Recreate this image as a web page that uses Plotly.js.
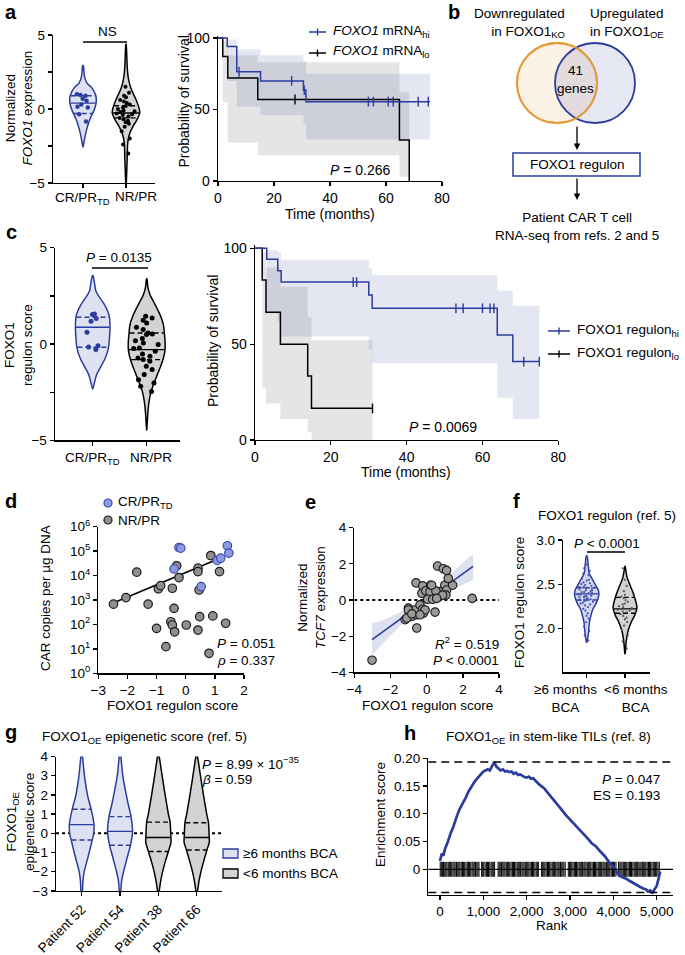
<!DOCTYPE html>
<html><head><meta charset="utf-8">
<script src="https://cdn.plot.ly/plotly-3.0.1.min.js"></script>
<style>html,body{margin:0;padding:0;background:#fff;} #chart{width:685px;height:955px;}</style>
</head><body><div id="chart"></div>
<script>
// ---------------- DATA ----------------
// panel a : violin
const aCategories = ['CR/PR<sub>TD</sub>', 'NR/PR'];
const aCRValues = [1.0, 0.95, 0.9, 0.7, 0.55, 0.3, 0.15, 0.1, -0.35, -0.85];
const aNRValues = [1.5, 1.1, 0.9, 0.8, 0.6, 0.5, 0.4, 0.3, 0.2, 0.1, 0.0, -0.1, -0.15, -0.2, -0.3, -0.35, -0.4, -0.5, -0.6, -0.7, -0.8, -0.9, -1.0, -1.2, -1.5, -2.0, -2.4, -3.0];
const aCRShapeY = [2.87, 2.2, 1.75, 1.41, 0.96, 0.63, 0.29, -0.16, -0.61, -1.05, -1.61, -2.06, -2.51];
const aCRShapeD = [0.04, 0.11, 0.3, 0.68, 0.94, 1.0, 0.96, 0.79, 0.56, 0.38, 0.21, 0.11, 0.02];
const aNRShapeY = [4.3, 3.5, 2.8, 2.2, 1.7, 1.3, 0.63, 0.18, -0.27, -0.72, -1.17, -1.6, -2.06, -2.5, -3.2, -4.0, -5.0];
const aNRShapeD = [0.02, 0.06, 0.09, 0.15, 0.26, 0.4, 0.73, 0.91, 1.0, 0.8, 0.51, 0.29, 0.16, 0.11, 0.09, 0.06, 0.02];
const aCRStats = [-0.3, 0.4, 0.9];   // q1, median, q3
const aNRStats = [-0.6, -0.27, 0.22];
// panel a : survival
const aHiTime = [0, 3.3, 6.7, 15.2, 30.5, 31.4, 75.7];
const aHiSurv = [100, 94, 76.4, 70, 63.6, 55.5, 55.5];
const aHiUpper = [100, 99, 92, 88, 84, 75, 75];
const aHiLower = [100, 70, 52, 46, 40, 29, 29];
const aHiCensor = [7.5, 26.3, 30.8, 53.7, 55.5, 60.8, 62.6, 71.5, 75.1];
const aLoTime = [0, 1.7, 3.5, 14.2, 64.8, 68.3];
const aLoSurv = [100, 87, 72, 57, 28.7, 0];
const aLoUpper = [100, 98, 88, 83, 62, 0];
const aLoLower = [100, 55, 27, 18, 3, 0];
const aLoCensor = [27.5];
// panel c : violin
const cCRValues = [1.56, 1.53, 1.32, 1.18, 0.61, -0.09, -0.16, -0.29];
const cNRValues = [1.44, 1.35, 1.23, 1.09, 0.87, 0.75, 0.57, 0.52, 0.49, 0.28, 0.17, 0.05, -0.03, -0.21, -0.24, -0.38, -0.52, -0.64, -0.73, -0.81, -0.9, -1.16, -1.33, -1.59, -1.85, -2.03, -2.2, -2.46];
const cCRShapeY = [3.52, 3.08, 2.74, 2.39, 2.05, 1.70, 1.39, 0.87, 0.31, -0.21, -0.73, -1.16, -1.59, -1.94, -2.29];
const cCRShapeD = [0.03, 0.12, 0.19, 0.42, 0.68, 0.87, 0.97, 1.0, 0.97, 0.91, 0.73, 0.48, 0.23, 0.12, 0.02];
const cNRShapeY = [3.35, 2.91, 2.56, 2.22, 1.87, 1.44, 1.0, 0.57, 0.14, -0.29, -0.73, -1.16, -1.59, -2.03, -2.46, -2.98, -3.5, -4.37];
const cNRShapeD = [0.02, 0.07, 0.18, 0.36, 0.55, 0.76, 0.91, 0.96, 1.0, 1.0, 0.91, 0.76, 0.58, 0.4, 0.24, 0.13, 0.07, 0.01];
const cCRStats = [-0.17, 0.87, 1.39];
const cNRStats = [-0.81, -0.29, 0.57];
// panel c : survival
const cHiTime = [0, 3.1, 6.0, 6.9, 30.0, 30.9, 63.9, 68.0, 75.0];
const cHiSurv = [100, 94.3, 88.3, 82.4, 75.7, 68.7, 54.8, 40.9, 40.9];
const cHiUpper = [100, 99, 98, 94, 90, 86, 78, 70, 70];
const cHiLower = [100, 66, 62, 54, 47, 40, 22, 11, 11];
const cHiCensor = [25.9, 26.8, 53, 54.9, 60, 62, 63, 70.9, 75];
const cLoTime = [0, 1.9, 2.9, 6.7, 13.9, 14.9, 31];
const cLoSurv = [100, 83.5, 66.6, 49.9, 33.4, 16.5, 16.5];
const cLoUpper = [100, 98, 90, 80, 64, 52, 52];
const cLoLower = [100, 27, 19, 11, 4, 0, 0];
const cLoCensor = [31];
// panel d
const dNRx = [-2.48, -2.05, -1.68, -1.29, -0.94, -0.86, -1.0, -0.68, -0.51, -0.46, -0.38, -0.46, -0.40, -0.31, -0.23, 0.02, 0.42, 0.42, 0.42, 0.48, 0.46, 0.86, 0.93, 1.16, 1.37, 0.80];
const dNRy = [676, 1259, 13800, 676, 2880, 3890, 69, 12.3, 129, 95, 50, 3020, 457, 25100, 8300, 95, 20000, 14500, 59, 209, 2570, 66000, 224, 14500, 112, 6.6];
const dCRx = [-0.23, -0.17, -0.4, 0.53, 1.08, 1.2, 1.43, 1.48];
const dCRy = [141000, 132000, 18600, 3550, 41700, 51300, 166000, 83000];
const dFitX = [-2.51, 1.03];
const dFitY = [740, 43600];
// panel e
const eX = [-3.02, -0.55, -1.19, -1.01, -0.95, -0.73, -0.82, -0.55, -0.64, -0.37, -0.22, -0.18, -0.09, 0.46, -0.59, -0.27, -0.22, -0.05, 0.18, 0.22, 0.05, 0.33, 0.64, 0.73, 0.51, 1.0, 1.1, 1.06, 0.88, 0.6, 0.91, 1.43, -1.1, -1.01, -0.82, -0.37, 0.55, 1.19, 1.1, 2.51, 0.27];
const eY = [-3.33, -1.55, -1.09, -0.45, -0.73, -0.64, -0.91, -0.82, -0.55, -0.27, -0.51, -0.73, -0.55, -0.67, 0.95, 0.37, 0.78, 0.51, 0.46, 0.82, 0.04, 0.04, 0.15, 0.46, 0.49, 0.82, 0.55, 0.27, 0.27, 1.88, 1.73, 0.82, -1.0, -0.55, -0.77, -0.82, 0.09, 1.19, 1.64, 0.09, 0.82];
const eFitX = [-3.02, 2.56];
const eFitY = [-2.19, 1.86];
const eBandX = [-3.02, -2.5, -2, -1.5, -1, -0.5, 0, 0.5, 1, 1.5, 2, 2.56];
const eBandLo = [-3.05, -2.47, -1.97, -1.48, -0.99, -0.53, -0.16, 0.11, 0.36, 0.59, 0.82, 1.12];
const eBandHi = [-1.3, -1.15, -0.93, -0.70, -0.45, -0.19, 0.16, 0.61, 1.10, 1.59, 2.08, 2.55];
// panel f
const fCategories = ['≥6 months<br>BCA', '&lt;6 months<br>BCA'];
const fLongValues = [2.80, 2.72, 2.68, 2.65, 2.62, 2.60, 2.58, 2.56, 2.55, 2.54, 2.52, 2.51, 2.50, 2.49, 2.48, 2.47, 2.47, 2.46, 2.45, 2.45, 2.44, 2.43, 2.43, 2.42, 2.41, 2.41, 2.40, 2.40, 2.39, 2.39, 2.38, 2.38, 2.37, 2.37, 2.36, 2.36, 2.35, 2.35, 2.34, 2.33, 2.33, 2.32, 2.32, 2.31, 2.30, 2.29, 2.28, 2.27, 2.26, 2.24, 2.22, 2.20, 2.17, 2.14, 2.11, 2.07, 2.02, 1.97, 1.92, 1.86];
const fShortValues = [2.68, 2.55, 2.48, 2.42, 2.38, 2.36, 2.34, 2.32, 2.30, 2.28, 2.27, 2.25, 2.24, 2.23, 2.22, 2.21, 2.20, 2.19, 2.18, 2.16, 2.14, 2.12, 2.10, 2.07, 2.03, 1.98, 1.92, 1.85, 1.77];
const fLongShapeY = [2.81, 2.70, 2.62, 2.55, 2.47, 2.42, 2.36, 2.28, 2.21, 2.13, 2.06, 1.94, 1.85];
const fLongShapeD = [0.05, 0.14, 0.22, 0.5, 0.83, 1.0, 1.0, 0.78, 0.5, 0.33, 0.22, 0.14, 0.03];
const fShortShapeY = [2.69, 2.58, 2.49, 2.40, 2.30, 2.23, 2.15, 2.08, 1.98, 1.89, 1.79, 1.72];
const fShortShapeD = [0.03, 0.17, 0.42, 0.69, 0.92, 1.0, 0.83, 0.56, 0.28, 0.14, 0.06, 0.02];
const fLongStats = [2.32, 2.39, 2.46];
const fShortStats = [2.17, 2.22, 2.35];
// panel g
const gPatients = ['Patient 52', 'Patient 54', 'Patient 38', 'Patient 66'];
const gShapeY52 = [4, 3, 2, 1.25, 0.5, 0, -0.35, -1, -1.5, -2, -2.5, -3];
const gShapeD52 = [0.06, 0.22, 0.46, 0.76, 0.98, 0.96, 0.84, 0.6, 0.4, 0.2, 0.1, 0.06];
const gShapeY54 = [4, 3, 2, 1.5, 0.87, 0.1, -0.62, -1, -1.5, -2, -2.5, -3];
const gShapeD54 = [0.06, 0.22, 0.5, 0.66, 0.88, 1.0, 0.84, 0.68, 0.48, 0.28, 0.12, 0.06];
const gShapeY38 = [4, 3, 2, 1, 0.58, -0.22, -0.5, -0.95, -1.5, -2, -2.5, -3];
const gShapeD38 = [0.06, 0.3, 0.54, 0.8, 0.94, 1.0, 1.0, 0.8, 0.54, 0.34, 0.18, 0.06];
const gShapeY66 = [4, 3, 2, 1, 0.55, -0.22, -0.5, -0.87, -1.5, -2, -2.5, -3];
const gShapeD66 = [0.06, 0.3, 0.54, 0.8, 0.94, 1.0, 1.0, 0.82, 0.54, 0.34, 0.18, 0.06];
const gStats52 = [-0.35, 0.45, 1.25];
const gStats54 = [-0.62, 0.1, 0.87];
const gStats38 = [-0.95, -0.22, 0.58];
const gStats66 = [-0.87, -0.22, 0.55];
// panel h
const hRank = [0, 40, 80, 120, 160, 200, 250, 300, 350, 400, 450, 500, 550, 600, 650, 700, 750, 800, 850, 900, 950, 1000, 1050, 1100, 1150, 1200, 1250, 1300, 1350, 1400, 1450, 1500, 1550, 1600, 1650, 1700, 1750, 1800, 1850, 1900, 1950, 2000, 2050, 2100, 2150, 2200, 2250, 2300, 2400, 2500, 2600, 2700, 2800, 2900, 3000, 3100, 3200, 3300, 3400, 3500, 3600, 3700, 3800, 3900, 4000, 4100, 4150, 4200, 4300, 4400, 4500, 4600, 4700, 4750, 4800, 4850, 4900, 4950, 5000, 5050, 5080];
const hES = [0.015, 0.028, 0.025, 0.038, 0.045, 0.055, 0.066, 0.075, 0.088, 0.098, 0.108, 0.115, 0.124, 0.130, 0.139, 0.146, 0.151, 0.158, 0.163, 0.168, 0.172, 0.176, 0.178, 0.180, 0.178, 0.186, 0.193, 0.185, 0.181, 0.178, 0.180, 0.176, 0.177, 0.175, 0.176, 0.172, 0.174, 0.170, 0.171, 0.168, 0.166, 0.165, 0.167, 0.163, 0.164, 0.160, 0.155, 0.152, 0.146, 0.137, 0.127, 0.118, 0.108, 0.098, 0.090, 0.081, 0.073, 0.065, 0.056, 0.047, 0.041, 0.032, 0.024, 0.013, 0.005, -0.008, -0.012, -0.014, -0.017, -0.022, -0.027, -0.031, -0.035, -0.036, -0.040, -0.038, -0.042, -0.037, -0.030, -0.015, -0.004];
const hHits = [5, 30, 55, 80, 110, 135, 160, 190, 215, 240, 270, 300, 325, 350, 380, 410, 435, 460, 490, 520, 545, 570, 600, 630, 655, 680, 710, 740, 765, 790, 820, 850, 875, 900, 960, 985, 1010, 1040, 1070, 1095, 1120, 1150, 1180, 1205, 1230, 1260, 1340, 1365, 1390, 1420, 1450, 1475, 1500, 1530, 1560, 1585, 1610, 1640, 1670, 1695, 1720, 1750, 1780, 1805, 1830, 1860, 1890, 1915, 1940, 1970, 2000, 2025, 2050, 2080, 2110, 2135, 2160, 2190, 2220, 2245, 2270, 2340, 2370, 2395, 2420, 2450, 2480, 2505, 2530, 2560, 2590, 2615, 2640, 2670, 2700, 2725, 2750, 2780, 2810, 2835, 2860, 2890, 2960, 2990, 3015, 3040, 3070, 3100, 3125, 3150, 3180, 3210, 3235, 3260, 3290, 3320, 3345, 3370, 3400, 3430, 3455, 3480, 3510, 3540, 3565, 3590, 3620, 3650, 3675, 3700, 3730, 3760, 3785, 3810, 3840, 3870, 3895, 3920, 3950, 3980, 4005, 4030, 4060, 4120, 4150, 4175, 4200, 4230, 4260, 4285, 4310, 4340, 4370, 4395, 4420, 4450, 4480, 4505, 4530, 4560, 4590, 4615, 4640, 4670, 4700, 4725, 4750, 4780, 4810, 4835, 4860, 4890, 4920, 4945, 4970, 5000, 5030, 5060];

// ---------------- STYLE / HELPERS ----------------
const FONT = 'Liberation Sans, Arial, Helvetica, sans-serif';
const W = 685, H = 955;
const BLUE = '#2B3C9C', BLUE_FILL = '#DDE1F1', GRAY_FILL = '#D3D3D3', BLACK = '#000';
const BLUE_BAND = 'rgba(43,60,156,0.13)', GRAY_BAND = 'rgba(0,0,0,0.10)';

function linDom(p1, v1, p2, v2, r, isY) {
  const k = (p2 - p1) / (v2 - v1);
  const a = p1 + (r[0] - v1) * k, b = p1 + (r[1] - v1) * k;
  return isY ? [1 - a / H, 1 - b / H] : [a / W, b / W];
}
const shapes = [];
function f4(v) { return v.toFixed(4); }
// violin body drawn as a smooth closed path (Catmull-Rom) in data coordinates of axis pair
function violinShape(ax, pos, ys, ds, half, fill, line) {
  const pts = [];
  ys.forEach((y, i) => pts.push([pos + ds[i] * half, y]));
  for (let i = ys.length - 1; i >= 0; i--) pts.push([pos - ds[i] * half, ys[i]]);
  const n = pts.length;
  let d = 'M' + f4(pts[0][0]) + ',' + f4(pts[0][1]);
  for (let i = 0; i < n; i++) {
    const p0 = pts[(i - 1 + n) % n], p1 = pts[i], p2 = pts[(i + 1) % n], p3 = pts[(i + 2) % n];
    const c1 = [p1[0] + (p2[0] - p0[0]) / 6, p1[1] + (p2[1] - p0[1]) / 6];
    const c2 = [p2[0] - (p3[0] - p1[0]) / 6, p2[1] - (p3[1] - p1[1]) / 6];
    d += ' C' + f4(c1[0]) + ',' + f4(c1[1]) + ' ' + f4(c2[0]) + ',' + f4(c2[1]) + ' ' + f4(p2[0]) + ',' + f4(p2[1]);
  }
  d += ' Z';
  shapes.push({type: 'path', xref: 'x' + ax, yref: 'y' + ax, path: d, fillcolor: fill, line: {color: line, width: 1.5}, layer: 'below'});
}
function widthAt(ys, ds, v) {
  for (let i = 0; i < ys.length - 1; i++) {
    if (v <= ys[i] && v >= ys[i + 1]) { const t = (ys[i] - v) / (ys[i] - ys[i + 1]); return ds[i] + (ds[i + 1] - ds[i]) * t; }
  }
  return 0;
}
function statShapes(ax, pos, ys, ds, half, stats, color) {
  stats.forEach((v, i) => {
    const w = widthAt(ys, ds, v) * half * 0.97;
    shapes.push({type: 'line', xref: 'x' + ax, yref: 'y' + ax, x0: pos - w, x1: pos + w, y0: v, y1: v,
      line: {color: color, width: 1.4, dash: i === 1 ? 'solid' : '5px,3px'}, layer: 'below'});
  });
}
function pointsTrace(xa, ya, pos, vals, color, size, spread) {
  return {type: 'box', xaxis: xa, yaxis: ya, x0: pos, y: vals, boxpoints: 'all', jitter: 1, pointpos: 0, width: spread,
    fillcolor: 'rgba(0,0,0,0)', line: {color: 'rgba(0,0,0,0)', width: 0}, whiskerwidth: 0,
    marker: {color: color, size: size, line: {width: 0}}, hoverinfo: 'skip'};
}
function stepLine(xa, ya, t, s, color) {
  return {type: 'scatter', mode: 'lines', xaxis: xa, yaxis: ya, x: t, y: s, line: {color: color, width: 1.5, shape: 'hv'}, hoverinfo: 'skip'};
}
function band(xa, ya, t, up, lo, fill) {
  return [
    {type: 'scatter', mode: 'lines', xaxis: xa, yaxis: ya, x: t, y: up, line: {width: 0, shape: 'hv', color: 'rgba(0,0,0,0)'}, hoverinfo: 'skip'},
    {type: 'scatter', mode: 'lines', xaxis: xa, yaxis: ya, x: t, y: lo, line: {width: 0, shape: 'hv', color: 'rgba(0,0,0,0)'}, fill: 'tonexty', fillcolor: fill, hoverinfo: 'skip'}
  ];
}
function censor(xa, ya, t, s, times, color) {
  const ys = times.map(c => { let v = s[0]; for (let i = 0; i < t.length; i++) { if (t[i] <= c) v = s[i]; } return v; });
  return {type: 'scatter', mode: 'markers', xaxis: xa, yaxis: ya, x: times, y: ys,
    marker: {symbol: 'line-ns-open', size: 7, color: color, line: {color: color, width: 1.4}}, hoverinfo: 'skip'};
}
function T(x, y, text, o) {
  o = o || {};
  const size = o.size || 13.5; delete o.size;
  return Object.assign({xref: 'paper', yref: 'paper', x: x / W, y: 1 - y / H, text: text, showarrow: false,
    xanchor: 'center', yanchor: 'middle', font: {family: FONT, size: size, color: '#000'}}, o);
}
function pline(x0, y0, x1, y1, color, width) {
  return {type: 'line', xref: 'paper', yref: 'paper', x0: x0 / W, x1: x1 / W, y0: 1 - y0 / H, y1: 1 - y1 / H, line: {color: color, width: width || 1.3}};
}

// ---------------- MARKS ----------------
const traces = [];
// reference lines drawn under violins / points
shapes.push({type: 'line', xref: 'x6 domain', x0: 0, x1: 1, yref: 'y6', y0: 0, y1: 0, line: {color: BLACK, width: 2, dash: 'dot'}, layer: 'below'});
shapes.push({type: 'line', xref: 'x8 domain', x0: 0, x1: 1, yref: 'y8', y0: 0, y1: 0, line: {color: BLACK, width: 2, dash: 'dot'}, layer: 'below'});
// a violin
violinShape('', 0, aCRShapeY, aCRShapeD, 0.31, BLUE_FILL, BLUE);
violinShape('', 1, aNRShapeY, aNRShapeD, 0.32, GRAY_FILL, BLACK);
statShapes('', 0, aCRShapeY, aCRShapeD, 0.31, aCRStats, BLUE);
statShapes('', 1, aNRShapeY, aNRShapeD, 0.32, aNRStats, BLACK);
traces.push(pointsTrace('x', 'y', 0, aCRValues, BLUE, 4.5, 0.4));
traces.push(pointsTrace('x', 'y', 1, aNRValues, BLACK, 4, 0.45));
// a survival
traces.push(...band('x2', 'y2', aLoTime, aLoUpper, aLoLower, GRAY_BAND));
traces.push(...band('x2', 'y2', aHiTime, aHiUpper, aHiLower, BLUE_BAND));
traces.push(stepLine('x2', 'y2', aLoTime, aLoSurv, BLACK));
traces.push(stepLine('x2', 'y2', aHiTime, aHiSurv, BLUE));
traces.push(censor('x2', 'y2', aLoTime, aLoSurv, aLoCensor, BLACK));
traces.push(censor('x2', 'y2', aHiTime, aHiSurv, aHiCensor, BLUE));
// c violin
violinShape('3', 0, cCRShapeY, cCRShapeD, 0.32, BLUE_FILL, BLUE);
violinShape('3', 1, cNRShapeY, cNRShapeD, 0.34, GRAY_FILL, BLACK);
statShapes('3', 0, cCRShapeY, cCRShapeD, 0.32, cCRStats, BLUE);
statShapes('3', 1, cNRShapeY, cNRShapeD, 0.34, cNRStats, BLACK);
traces.push(pointsTrace('x3', 'y3', 0, cCRValues, BLUE, 5, 0.25));
traces.push(pointsTrace('x3', 'y3', 1, cNRValues, BLACK, 5, 0.5));
// c survival
traces.push(...band('x4', 'y4', cLoTime, cLoUpper, cLoLower, GRAY_BAND));
traces.push(...band('x4', 'y4', cHiTime, cHiUpper, cHiLower, BLUE_BAND));
traces.push(stepLine('x4', 'y4', cLoTime, cLoSurv, BLACK));
traces.push(stepLine('x4', 'y4', cHiTime, cHiSurv, BLUE));
traces.push(censor('x4', 'y4', cLoTime, cLoSurv, cLoCensor, BLACK));
traces.push(censor('x4', 'y4', cHiTime, cHiSurv, cHiCensor, BLUE));
// d
traces.push({type: 'scatter', mode: 'lines', xaxis: 'x5', yaxis: 'y5', x: dFitX, y: dFitY, line: {color: BLACK, width: 1.6}, hoverinfo: 'skip'});
traces.push({type: 'scatter', mode: 'markers', xaxis: 'x5', yaxis: 'y5', x: dNRx, y: dNRy, marker: {size: 8.5, color: '#8F8F8F', line: {color: '#1a1a1a', width: 1.2}}, hoverinfo: 'skip'});
traces.push({type: 'scatter', mode: 'markers', xaxis: 'x5', yaxis: 'y5', x: dCRx, y: dCRy, marker: {size: 8.5, color: '#8C9BDB', line: {color: '#3A4AB2', width: 1.2}}, hoverinfo: 'skip'});
// e
traces.push({type: 'scatter', mode: 'lines', xaxis: 'x6', yaxis: 'y6', x: eBandX, y: eBandHi, line: {width: 0, color: 'rgba(0,0,0,0)'}, hoverinfo: 'skip'});
traces.push({type: 'scatter', mode: 'lines', xaxis: 'x6', yaxis: 'y6', x: eBandX, y: eBandLo, line: {width: 0, color: 'rgba(0,0,0,0)'}, fill: 'tonexty', fillcolor: 'rgba(43,60,156,0.16)', hoverinfo: 'skip'});
traces.push({type: 'scatter', mode: 'lines', xaxis: 'x6', yaxis: 'y6', x: eFitX, y: eFitY, line: {color: BLUE, width: 1.6}, hoverinfo: 'skip'});
traces.push({type: 'scatter', mode: 'markers', xaxis: 'x6', yaxis: 'y6', x: eX, y: eY, marker: {size: 8.5, color: '#9A9A9A', line: {color: '#1a1a1a', width: 1.1}}, hoverinfo: 'skip'});
// f
violinShape('7', 0, fLongShapeY, fLongShapeD, 0.31, '#D3D8EF', BLUE);
violinShape('7', 1, fShortShapeY, fShortShapeD, 0.31, GRAY_FILL, BLACK);
statShapes('7', 0, fLongShapeY, fLongShapeD, 0.31, fLongStats, BLUE);
statShapes('7', 1, fShortShapeY, fShortShapeD, 0.31, fShortStats, BLACK);
traces.push(pointsTrace('x7', 'y7', 0, fLongValues, '#4656B4', 2.2, 0.5));
traces.push(pointsTrace('x7', 'y7', 1, fShortValues, '#555', 2.2, 0.4));
// g
const gSets = [[gShapeY52, gShapeD52, gStats52, BLUE_FILL, BLUE], [gShapeY54, gShapeD54, gStats54, BLUE_FILL, BLUE],
               [gShapeY38, gShapeD38, gStats38, GRAY_FILL, BLACK], [gShapeY66, gShapeD66, gStats66, GRAY_FILL, BLACK]];
gSets.forEach((s, i) => {
  violinShape('8', i, s[0], s[1], 0.326, s[3], s[4]);
  statShapes('8', i, s[0], s[1], 0.326, s[2], s[4]);
});
// h
const barX = [], barY = [];
hHits.forEach(r => { barX.push(r, r, null); barY.push(-0.0135, 0.0135, null); });
traces.push({type: 'scatter', mode: 'lines', xaxis: 'x9', yaxis: 'y9', x: barX, y: barY, line: {color: BLACK, width: 1}, hoverinfo: 'skip'});
traces.push({type: 'scatter', mode: 'lines', xaxis: 'x9', yaxis: 'y9', x: hRank, y: hES, line: {color: BLUE, width: 2.7}, hoverinfo: 'skip'});
const hMax = Math.max(...hES), hMin = Math.min(...hES);

// ---------------- LAYOUT ----------------
function axis(extra) {
  return Object.assign({showline: true, linecolor: '#000', linewidth: 1.3, ticks: 'outside', ticklen: 4, tickwidth: 1.3, tickcolor: '#000',
    showgrid: false, zeroline: false, fixedrange: true, tickmode: 'array', layer: 'above traces', tickangle: 0,
    tickfont: {family: FONT, size: 13.5, color: '#000'}}, extra);
}
const survFont = {family: FONT, size: 14, color: '#000'};
shapes.push(
  // significance bars
  pline(83, 42, 127, 42, BLACK), pline(92, 268, 148, 268, BLACK), pline(587, 552, 625, 552, BLACK),
  // h reference lines
  {type: 'line', xref: 'x9 domain', x0: 0, x1: 1, yref: 'y9', y0: 0, y1: 0, line: {color: BLACK, width: 1.3}},
  {type: 'line', xref: 'x9 domain', x0: 0, x1: 1, yref: 'y9', y0: hMax, y1: hMax, line: {color: BLACK, width: 1.5, dash: '8px,5px'}},
  {type: 'line', xref: 'x9 domain', x0: 0, x1: 1, yref: 'y9', y0: hMin, y1: hMin, line: {color: BLACK, width: 1.5, dash: '8px,5px'}},
  // survival legends
  pline(309, 32, 326, 32, BLUE, 1.5), pline(317.5, 28.5, 317.5, 35.5, BLUE, 1.4),
  pline(309, 53, 326, 53, BLACK, 1.5), pline(317.5, 49.5, 317.5, 56.5, BLACK, 1.4),
  pline(548, 331, 570, 331, BLUE, 1.5), pline(559, 327.5, 559, 334.5, BLUE, 1.4),
  pline(548, 354, 570, 354, BLACK, 1.5), pline(559, 350.5, 559, 357.5, BLACK, 1.4),
  // d legend markers
  {type: 'circle', xref: 'paper', yref: 'paper', x0: 104 / W, x1: 112 / W, y0: 1 - 507 / H, y1: 1 - 499 / H, fillcolor: '#8C9BDB', line: {color: '#3A4AB2', width: 1.2}},
  {type: 'circle', xref: 'paper', yref: 'paper', x0: 104 / W, x1: 112 / W, y0: 1 - 524 / H, y1: 1 - 516 / H, fillcolor: '#8F8F8F', line: {color: '#1a1a1a', width: 1.2}},
  // g legend swatches
  {type: 'rect', xref: 'paper', yref: 'paper', x0: 223 / W, x1: 238 / W, y0: 1 - 858 / H, y1: 1 - 849 / H, fillcolor: BLUE_FILL, line: {color: BLUE, width: 1.3}},
  {type: 'rect', xref: 'paper', yref: 'paper', x0: 223 / W, x1: 238 / W, y0: 1 - 878 / H, y1: 1 - 869 / H, fillcolor: GRAY_FILL, line: {color: BLACK, width: 1.3}},
  // Venn
  {type: 'circle', xref: 'paper', yref: 'paper', x0: 517 / W, x1: 597 / W, y0: 1 - 123 / H, y1: 1 - 43 / H, fillcolor: '#FCF1E5', line: {color: '#E39B3B', width: 1.8}},
  {type: 'circle', xref: 'paper', yref: 'paper', x0: 555 / W, x1: 635 / W, y0: 1 - 123 / H, y1: 1 - 43 / H, fillcolor: 'rgba(43,60,156,0.12)', line: {color: BLUE, width: 1.8}},
  {type: 'circle', xref: 'paper', yref: 'paper', x0: 517 / W, x1: 597 / W, y0: 1 - 123 / H, y1: 1 - 43 / H, fillcolor: 'rgba(0,0,0,0)', line: {color: '#E39B3B', width: 1.8}},
  {type: 'rect', xref: 'paper', yref: 'paper', x0: 513 / W, x1: 640 / W, y0: 1 - 176 / H, y1: 1 - 153 / H, fillcolor: 'rgba(0,0,0,0)', line: {color: BLUE, width: 1.5}}
);
const layout = {
  width: W, height: H, margin: {l: 0, r: 0, t: 0, b: 0}, showlegend: false,
  paper_bgcolor: '#fff', plot_bgcolor: 'rgba(0,0,0,0)', font: {family: FONT, size: 13.5, color: '#000'},
  xaxis: axis({domain: linDom(83, 0, 126, 1, [-0.7, 1.67]), range: [-0.7, 1.67], anchor: 'y', tickvals: [0, 1], ticktext: ['', '']}),
  yaxis: axis({domain: linDom(109, 0, 35, 5, [-5, 5], true), range: [-5, 5], anchor: 'x', tickvals: [-5, -2.5, 0, 2.5, 5], ticktext: ['−5', '', '0', '', '5']}),
  xaxis2: axis({domain: linDom(218, 0, 442, 80, [0, 80]), range: [0, 80], anchor: 'y2', tickvals: [0, 20, 40, 60, 80], ticktext: ['0', '20', '40', '60', '80'], tickfont: survFont}),
  yaxis2: axis({domain: linDom(181, 0, 38, 100, [0, 101.5], true), range: [0, 101.5], anchor: 'x2', tickvals: [0, 50, 100], ticktext: ['0', '50', '100'], tickfont: survFont}),
  xaxis3: axis({domain: linDom(92.7, 0, 146.7, 1, [-0.7, 1.62]), range: [-0.7, 1.62], anchor: 'y3', tickvals: [0, 1], ticktext: ['', '']}),
  yaxis3: axis({domain: linDom(344, 0, 247.7, 5, [-5, 5], true), range: [-5, 5], anchor: 'x3', tickvals: [-5, -2.5, 0, 2.5, 5], ticktext: ['−5', '', '0', '', '5']}),
  xaxis4: axis({domain: linDom(255, 0, 558.3, 80, [0, 80]), range: [0, 80], anchor: 'y4', tickvals: [0, 20, 40, 60, 80], ticktext: ['0', '20', '40', '60', '80'], tickfont: survFont}),
  yaxis4: axis({domain: linDom(440, 0, 248.3, 100, [0, 101.5], true), range: [0, 101.5], anchor: 'x4', tickvals: [0, 50, 100], ticktext: ['0', '50', '100'], tickfont: survFont}),
  xaxis5: axis({domain: linDom(98.3, -3, 244, 2, [-3, 2]), range: [-3, 2], anchor: 'y5', tickvals: [-3, -2, -1, 0, 1, 2], ticktext: ['−3', '−2', '−1', '0', '1', '2']}),
  yaxis5: axis({type: 'log', domain: linDom(673.3, 0, 526.7, 6, [0, 6], true), range: [0, 6], anchor: 'x5',
    tickvals: [1, 10, 100, 1000, 10000, 100000, 1000000], ticktext: ['10<sup>0</sup>', '10<sup>1</sup>', '10<sup>2</sup>', '10<sup>3</sup>', '10<sup>4</sup>', '10<sup>5</sup>', '10<sup>6</sup>']}),
  xaxis6: axis({domain: linDom(354.3, -4, 426.7, 0, [-4, 4]), range: [-4, 4], anchor: 'y6', tickvals: [-4, -2, 0, 2, 4], ticktext: ['−4', '−2', '0', '2', '4']}),
  yaxis6: axis({domain: linDom(600, 0, 527.7, 4, [-4, 4], true), range: [-4, 4], anchor: 'x6', tickvals: [-4, -2, 0, 2, 4], ticktext: ['−4', '−2', '0', '2', '4']}),
  xaxis7: axis({domain: linDom(586.7, 0, 625, 1, [-0.62, 1.65]), range: [-0.62, 1.65], anchor: 'y7', tickvals: [0, 1], ticktext: ['', '']}),
  yaxis7: axis({domain: linDom(540, 3, 628.3, 2, [1.5, 3.0], true), range: [1.5, 3.0], anchor: 'x7', tickvals: [2, 2.5, 3], ticktext: ['2.0', '2.5', '3.0']}),
  xaxis8: axis({domain: linDom(81.7, 0, 196.7, 3, [-0.67, 3.65]), range: [-0.67, 3.65], anchor: 'y8', tickvals: [0, 1, 2, 3], ticktext: gPatients, tickangle: -45}),
  yaxis8: axis({domain: linDom(833.3, 0, 775.7, 3, [-3, 4], true), range: [-3, 4], anchor: 'x8', tickvals: [-3, -2, -1, 0, 1, 2, 3, 4], ticktext: ['−3', '−2', '−1', '0', '1', '2', '3', '4']}),
  xaxis9: axis({domain: linDom(440, 0, 656.7, 5000, [-270, 5377]), range: [-270, 5377], anchor: 'y9', tickvals: [0, 1000, 2000, 3000, 4000, 5000], ticktext: ['0', '1,000', '2,000', '3,000', '4,000', '5,000']}),
  yaxis9: axis({domain: linDom(869.3, 0, 786, 0.15, [-0.046, 0.2], true), range: [-0.046, 0.2], anchor: 'x9', tickvals: [0, 0.05, 0.1, 0.15, 0.2], ticktext: ['0', '0.05', '0.10', '0.15', '0.20']}),
  shapes: shapes,
  annotations: [
    // panel letters
    T(11, 12, '<b>a</b>', {size: 20}), T(454, 12, '<b>b</b>', {size: 20}), T(11, 232, '<b>c</b>', {size: 20}),
    T(11, 501, '<b>d</b>', {size: 20}), T(310, 502, '<b>e</b>', {size: 20}), T(516, 501, '<b>f</b>', {size: 20}),
    T(11, 732, '<b>g</b>', {size: 20}), T(410, 733, '<b>h</b>', {size: 20}),
    // a
    T(19.5, 108, 'Normalized<br><i>FOXO1</i> expression', {textangle: -90}),
    T(107, 32, 'NS'),
    T(82, 198, aCategories[0]), T(136, 197, aCategories[1]),
    T(183.5, 102, 'Probability of survival', {textangle: -90, size: 14}),
    T(330, 214, 'Time (months)', {size: 14}),
    T(361, 170, '<i>P</i> = 0.266', {size: 14}),
    T(331, 31, '<i>FOXO1</i> mRNA<sub>hi</sub>', {xanchor: 'left'}),
    T(331, 52, '<i>FOXO1</i> mRNA<sub>lo</sub>', {xanchor: 'left'}),
    // b
    T(567, 23.5, 'Downregulated<br>in FOXO1<sub>KO</sub>', {xanchor: 'right', align: 'right'}),
    T(588, 23.5, 'Upregulated<br>in FOXO1<sub>OE</sub>', {xanchor: 'left', align: 'left'}),
    T(575, 80, '41<br>genes'),
    T(577, 164.5, 'FOXO1 regulon'),
    T(577, 226, 'Patient CAR T cell<br>RNA-seq from refs. 2 and 5'),
    {xref: 'paper', yref: 'paper', x: 577 / W, y: 1 - 150 / H, ax: 0, ay: -25, text: '', showarrow: true, arrowhead: 2, arrowsize: 1, arrowwidth: 1.3, arrowcolor: '#000'},
    {xref: 'paper', yref: 'paper', x: 577 / W, y: 1 - 200 / H, ax: 0, ay: -23, text: '', showarrow: true, arrowhead: 2, arrowsize: 1, arrowwidth: 1.3, arrowcolor: '#000'},
    // c
    T(18, 345, 'FOXO1<br>regulon score', {textangle: -90}),
    T(119, 257, '<i>P</i> = 0.0135'),
    T(92, 458, aCategories[0]), T(151, 457, aCategories[1]),
    T(213, 341, 'Probability of survival', {textangle: -90, size: 14}),
    T(406, 472, 'Time (months)', {size: 14}),
    T(443, 427, '<i>P</i> = 0.0069', {size: 14}),
    T(575, 330, 'FOXO1 regulon<sub>hi</sub>', {xanchor: 'left'}),
    T(575, 353, 'FOXO1 regulon<sub>lo</sub>', {xanchor: 'left'}),
    // d
    T(116, 502, 'CR/PR<sub>TD</sub>', {xanchor: 'left'}),
    T(116, 520, 'NR/PR', {xanchor: 'left'}),
    T(45, 598, 'CAR copies per µg DNA', {textangle: -90}),
    T(172, 705, 'FOXO1 regulon score'),
    T(277, 643, '<i>P</i> = 0.051', {xanchor: 'right'}),
    T(277, 660, '<i>ρ</i> = 0.337', {xanchor: 'right'}),
    // e
    T(311, 598, 'Normalized<br><i>TCF7</i> expression', {textangle: -90}),
    T(427, 705, 'FOXO1 regulon score'),
    T(501, 643, '<i>R</i><sup>2</sup> = 0.519', {xanchor: 'right'}),
    T(501, 660, '<i>P</i> &lt; 0.0001', {xanchor: 'right'}),
    // f
    T(607, 515, 'FOXO1 regulon (ref. 5)'),
    T(607, 543, '<i>P</i> &lt; 0.0001'),
    T(519, 603, 'FOXO1 regulon score', {textangle: -90}),
    T(565, 698, fCategories[0]),
    T(636, 698, fCategories[1]),
    // g
    T(40, 737, 'FOXO1<sub>OE</sub> epigenetic score (ref. 5)', {xanchor: 'left'}),
    T(20, 822, 'FOXO1<sub>OE</sub><br>epigenetic score', {textangle: -90}),
    T(200, 763, '<i>P</i> = 8.99 × 10<sup>−35</sup>', {xanchor: 'left'}),
    T(200, 779, '<i>β</i> = 0.59', {xanchor: 'left'}),
    T(241, 853, '≥6 months BCA', {xanchor: 'left'}),
    T(241, 873, '&lt;6 months BCA', {xanchor: 'left'}),
    // h
    T(548, 737, 'FOXO1<sub>OE</sub> in stem-like TILs (ref. 8)'),
    T(380, 815, 'Enrichment score', {textangle: -90}),
    T(552, 925, 'Rank'),
    T(662, 779, '<i>P</i> = 0.047', {xanchor: 'right'}),
    T(662, 795, 'ES = 0.193', {xanchor: 'right'})
  ]
};
Plotly.newPlot('chart', traces, layout, {staticPlot: true, displayModeBar: false});
</script></body></html>
